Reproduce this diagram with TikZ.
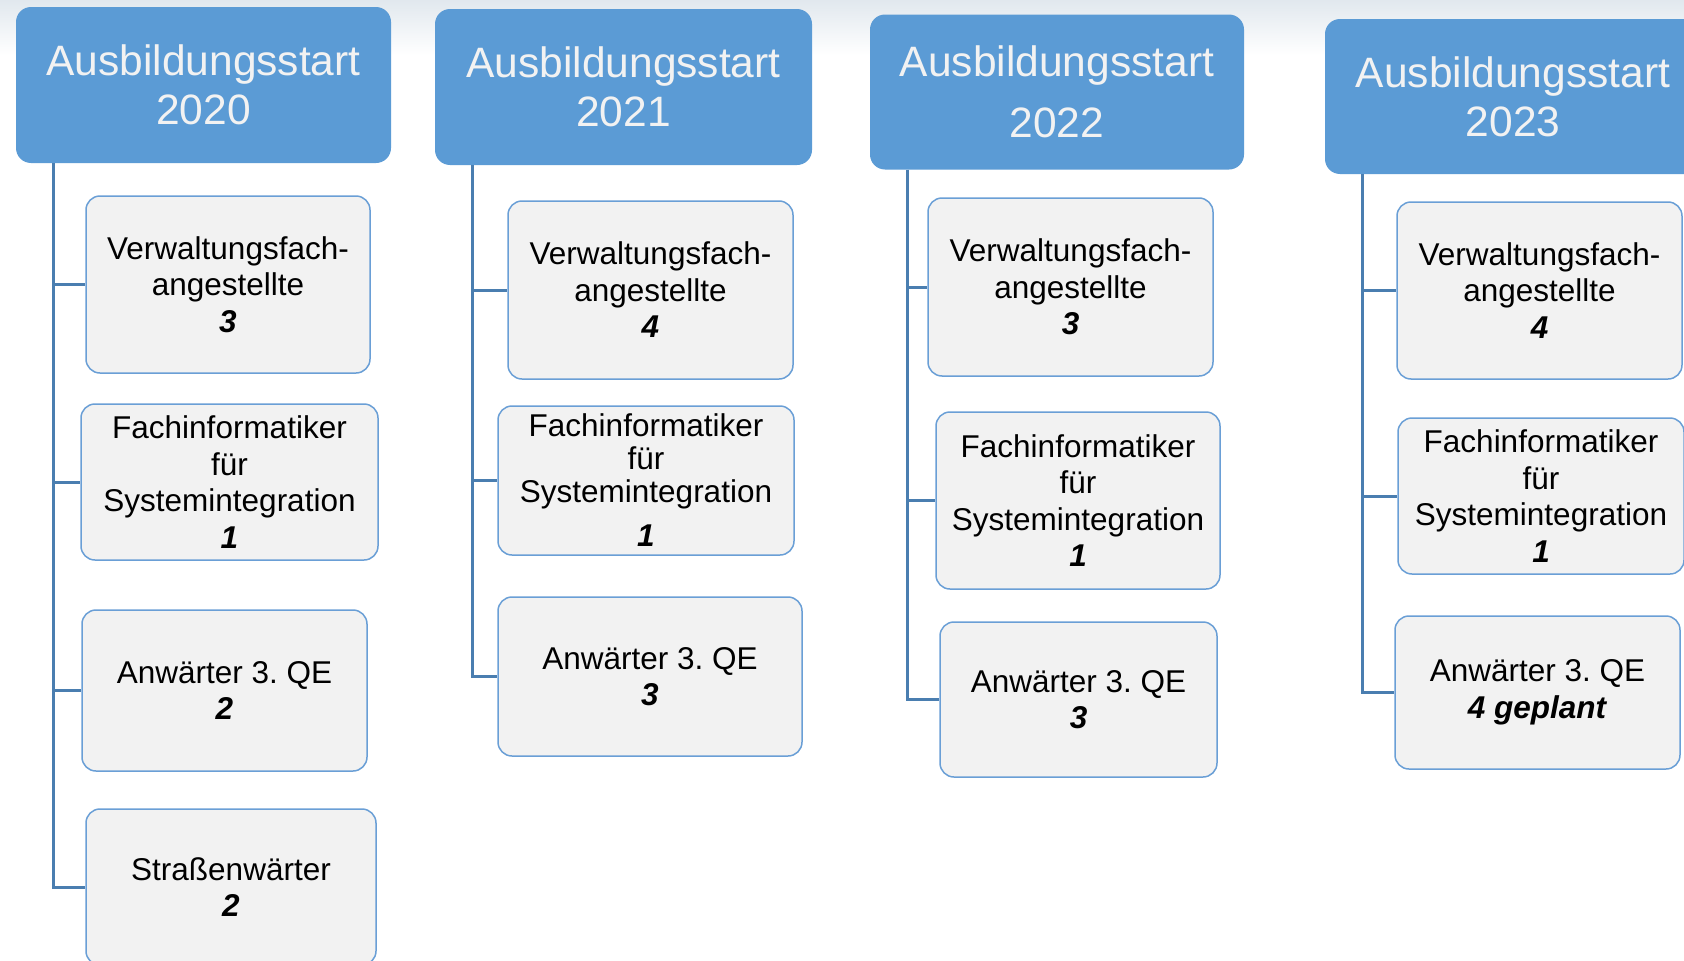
\documentclass[tikz,border=0pt]{standalone}
\usepackage{fontspec}
\setmainfont{Liberation Sans}
\frenchspacing
\definecolor{hdrblue}{HTML}{5B9BD5}
\definecolor{hdrtext}{HTML}{F2F2F2}
\definecolor{boxfill}{HTML}{F2F2F2}
\definecolor{boxline}{HTML}{6A9FD6}
\definecolor{connblue}{HTML}{4A7EB0}
\definecolor{bgtop}{HTML}{E1E8EE}
\tikzset{
  hdr/.style={rectangle, rounded corners=15pt, fill=hdrblue, text=hdrtext,
    font=\fontsize{42.5}{49}\selectfont, align=center, inner sep=0pt},
  box/.style={rectangle, rounded corners=14pt, fill=boxfill, draw=boxline,
    line width=1.5pt, font=\fontsize{31.5}{36.5}\selectfont, align=center,
    inner sep=0pt, text=black},
  conn/.style={draw=connblue, line width=3pt},
}
\newcommand{\num}[1]{\textbf{\textit{#1}}}
\begin{document}
\begin{tikzpicture}[x=1pt,y=-1pt]
\useasboundingbox (0,0) rectangle (1684,961);
\clip (0,0) rectangle (1684,961);
\fill[white] (0,0) rectangle (1684,961);
\shade[top color=bgtop, bottom color=white] (0,0) rectangle (1684,55);

% column 1
\coordinate (v1) at (53,0);
\node[hdr, minimum width=375pt, minimum height=156pt] (h1) at (203.5,85) {Ausbildungsstart\\2020};
\node[box, minimum width=284pt, minimum height=177pt] (b11) at (228,284.5) {Verwaltungsfach-\\angestellte\\\num{3}};
\node[box, minimum width=297pt, minimum height=156pt] (b12) at (229.5,482) {Fachinformatiker\\für\\Systemintegration\\\num{1}};
\node[box, minimum width=285pt, minimum height=161pt] (b13) at (224.5,690.5) {Anwärter 3. QE\\\num{2}};
\node[box, minimum width=290pt, minimum height=156pt] (b14) at (231,887) {Straßenwärter\\\num{2}};
\draw[conn] (h1.south -| v1) |- (b14.west);
\draw[conn] (b11.west -| v1) -- (b11.west);
\draw[conn] (b12.west -| v1) -- (b12.west);
\draw[conn] (b13.west -| v1) -- (b13.west);

% column 2
\coordinate (v2) at (472,0);
\node[hdr, minimum width=377pt, minimum height=156pt] (h2) at (623.5,87) {Ausbildungsstart\\2021};
\node[box, minimum width=285pt, minimum height=178pt] (b21) at (650.5,290) {Verwaltungsfach-\\angestellte\\\num{4}};
\node[box, minimum width=296pt, minimum height=149pt, font=\fontsize{31.5}{33}\selectfont] (b22) at (646,480.5) {Fachinformatiker\\für\\Systemintegration\\[11pt]\num{1}};
\node[box, minimum width=304pt, minimum height=159pt] (b23) at (650,676.5) {Anwärter 3. QE\\\num{3}};
\draw[conn] (h2.south -| v2) |- (b23.west);
\draw[conn] (b21.west -| v2) -- (b21.west);
\draw[conn] (b22.west -| v2) -- (b22.west);

% column 3
\coordinate (v3) at (907,0);
\node[hdr, minimum width=374pt, minimum height=155pt] (h3) at (1057,92) {Ausbildungsstart\\[12pt]2022};
\node[box, minimum width=285pt, minimum height=178pt] (b31) at (1070.5,287) {Verwaltungsfach-\\angestellte\\\num{3}};
\node[box, minimum width=284pt, minimum height=177pt] (b32) at (1078,500.5) {Fachinformatiker\\für\\Systemintegration\\\num{1}};
\node[box, minimum width=277pt, minimum height=155pt] (b33) at (1078.5,699.5) {Anwärter 3. QE\\\num{3}};
\draw[conn] (h3.south -| v3) |- (b33.west);
\draw[conn] (b31.west -| v3) -- (b31.west);
\draw[conn] (b32.west -| v3) -- (b32.west);

% column 4
\coordinate (v4) at (1362,0);
\node[hdr, minimum width=376pt, minimum height=155pt] (h4) at (1513,96.5) {Ausbildungsstart\\2023};
\node[box, minimum width=285pt, minimum height=177pt] (b41) at (1539.5,290.5) {Verwaltungsfach-\\angestellte\\\num{4}};
\node[box, minimum width=286pt, minimum height=156pt] (b42) at (1541,496) {Fachinformatiker\\für\\Systemintegration\\\num{1}};
\node[box, minimum width=285pt, minimum height=153pt] (b43) at (1537.5,692.5) {Anwärter 3. QE\\\num{4 geplant}};
\draw[conn] (h4.south -| v4) |- (b43.west);
\draw[conn] (b41.west -| v4) -- (b41.west);
\draw[conn] (b42.west -| v4) -- (b42.west);
\end{tikzpicture}
\end{document}
